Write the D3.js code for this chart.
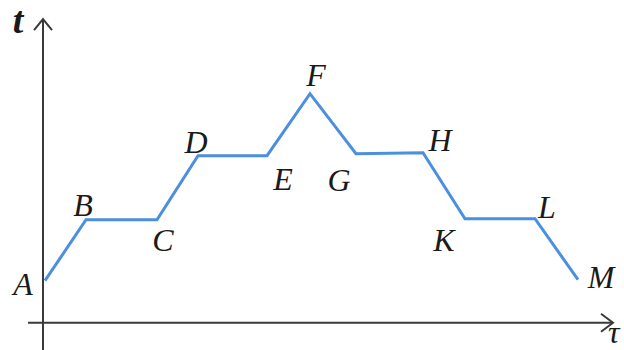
<!DOCTYPE html>
<html>
<head>
<meta charset="utf-8">
<script src="https://cdn.jsdelivr.net/npm/d3@7"></script>
<style>
html,body{margin:0;padding:0;background:#fff;}
svg{display:block;}
</style>
</head>
<body>
<svg id="chart" width="624" height="350"></svg>
<script>
// Data (abstract units)
const labels = ["A","B","C","D","E","F","G","H","K","L","M"];
const tauValues = [0.2, 4.3, 11.4, 15.5, 22.4, 26.7, 31.3, 38.0, 42.2, 49.2, 53.5];
const tValues   = [4.2, 10.3, 10.3, 16.7, 16.7, 22.9, 16.9, 17.0, 10.4, 10.4, 4.3];
// label offsets (in px) relative to each point: dx, dy (baseline)
const labelDx = [-22, -3, 6, -2, 16, 6, -17, 17, -21, 12, 23];
const labelDy = [14, -4, 31, -3, 34, -8, 37, -2, 32, -1, 8];
const axisLabels = ["t", "τ"];

const svg = d3.select("#chart");
const x = d3.scaleLinear().domain([0, 57]).range([43, 613]);
const y = d3.scaleLinear().domain([0, 30]).range([322.7, 22.7]);

const axisColor = "#3a3a3a";
// y axis
svg.append("line").attr("x1", x(0)).attr("x2", x(0)).attr("y1", 350).attr("y2", y(30.35))
  .attr("stroke", axisColor).attr("stroke-width", 2);
svg.append("path")
  .attr("d", `M${x(0)-9},${y(30.35)+11} L${x(0)},${y(30.35)} L${x(0)+9},${y(30.35)+11}`)
  .attr("fill", "none").attr("stroke", axisColor).attr("stroke-width", 2);
// x axis
svg.append("line").attr("x1", x(-1.5)).attr("x2", x(57)).attr("y1", y(0)).attr("y2", y(0))
  .attr("stroke", axisColor).attr("stroke-width", 2);
svg.append("path")
  .attr("d", `M${x(57)-12},${y(0)-9} L${x(57)},${y(0)} L${x(57)-12},${y(0)+9}`)
  .attr("fill", "none").attr("stroke", axisColor).attr("stroke-width", 2);

// line
const pts = tauValues.map((v, i) => [v, tValues[i]]);
svg.append("path")
  .datum(pts)
  .attr("d", d3.line().x(d => x(d[0])).y(d => y(d[1])))
  .attr("fill", "none").attr("stroke", "#4a8fe0").attr("stroke-width", 3)
  .attr("stroke-linejoin", "miter");

// point labels
const font = "'Liberation Serif', 'DejaVu Serif', serif";
svg.selectAll("text.pt").data(labels).enter().append("text")
  .attr("class", "pt")
  .attr("x", (d, i) => x(tauValues[i]) + labelDx[i])
  .attr("y", (d, i) => y(tValues[i]) + labelDy[i])
  .attr("text-anchor", "middle")
  .attr("font-family", font).attr("font-style", "italic")
  .attr("font-size", 32).attr("fill", "#1a1a1a")
  .text(d => d);

// axis labels
svg.append("text").attr("x", 18).attr("y", 33)
  .attr("text-anchor", "middle")
  .attr("font-family", font).attr("font-style", "italic").attr("font-weight", "bold")
  .attr("font-size", 38).attr("fill", "#1a1a1a").text(axisLabels[0]);
svg.append("text").attr("x", 608).attr("y", 343)
  .attr("text-anchor", "start")
  .attr("font-family", font).attr("font-style", "italic")
  .attr("font-size", 32).attr("fill", "#1a1a1a").text(axisLabels[1]);
</script>
</body>
</html>
